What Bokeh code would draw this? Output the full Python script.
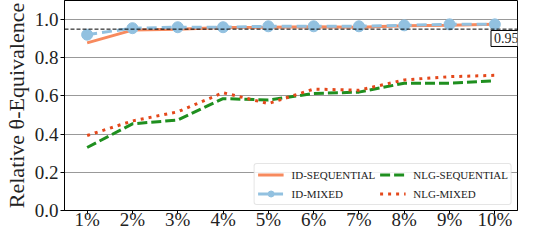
from bokeh.plotting import figure
from bokeh.models import Span, Label, Legend, LegendItem, FixedTicker, Range1d
from bokeh.embed import file_html
from bokeh.resources import INLINE

x = [1, 2, 3, 4, 5, 6, 7, 8, 9, 10]
x_labels = ["1%", "2%", "3%", "4%", "5%", "6%", "7%", "8%", "9%", "10%"]
id_sequential = [0.878, 0.945, 0.950, 0.958, 0.960, 0.963, 0.960, 0.968, 0.970, 0.975]
id_mixed = [0.921, 0.955, 0.960, 0.960, 0.965, 0.965, 0.965, 0.970, 0.975, 0.975]
nlg_sequential = [0.330, 0.454, 0.474, 0.586, 0.579, 0.613, 0.620, 0.667, 0.667, 0.679]
nlg_mixed = [0.393, 0.469, 0.517, 0.617, 0.560, 0.636, 0.630, 0.684, 0.701, 0.708]
threshold = 0.95
y_ticks = [0.0, 0.2, 0.4, 0.6, 0.8, 1.0]

FONT = "Liberation Serif"

p = figure(width=518, height=232, output_backend="svg", toolbar_location=None,
           x_range=Range1d(0.5, 10.5), y_range=Range1d(0, 1.1),
           min_border_left=56, min_border_right=1, min_border_top=0, min_border_bottom=10)
p.outline_line_color = "black"
p.outline_line_width = 1

# grid
p.xgrid.grid_line_color = None
p.ygrid.ticker = FixedTicker(ticks=y_ticks)
p.ygrid.grid_line_color = "#333333"
p.ygrid.grid_line_dash = "1 1"
p.ygrid.grid_line_width = 1

# axes
p.xaxis.ticker = FixedTicker(ticks=x)
p.xaxis.major_label_overrides = {xi: lab for xi, lab in zip(x, x_labels)}
p.yaxis.ticker = FixedTicker(ticks=y_ticks)
p.yaxis.major_label_overrides = {t: f"{t:.1f}" for t in y_ticks}
for ax in (p.xaxis[0], p.yaxis[0]):
    ax.axis_line_color = "black"
    ax.major_tick_line_color = "black"
    ax.major_tick_out = 4
    ax.major_tick_in = 0
    ax.minor_tick_line_color = None
    ax.major_label_text_font = FONT
    ax.major_label_text_font_size = "19px"
    ax.major_label_text_color = "#222222"
p.yaxis.major_label_standoff = 2
p.xaxis.major_label_standoff = -6
p.yaxis.axis_label = "Relative θ-Equivalence"
p.yaxis.axis_label_text_font = FONT
p.yaxis.axis_label_text_font_style = "normal"
p.yaxis.axis_label_text_font_size = "22px"
p.yaxis.axis_label_text_color = "#222222"
p.yaxis.axis_label_standoff = 3

# threshold line
p.add_layout(Span(location=threshold, dimension="width", line_color="black",
                  line_dash="4 2", line_width=1))

r1 = p.line(x, id_sequential, line_color="#f78a5e", line_width=3)
r2 = p.line(x, id_mixed, line_color="#92c1e0", line_width=3, line_dash="10 5")
r2m = p.scatter(x, id_mixed, size=11, fill_color="#92c1e0", line_color="#92c1e0")
r3 = p.line(x, nlg_sequential, line_color="#1f8f1f", line_width=3, line_dash="10 4")
r4 = p.line(x, nlg_mixed, line_color="#e4481b", line_width=3, line_dash="3 5")

lab = Label(x=10.5, y=0.943, text=f"{threshold:.2f}", text_align="right", text_baseline="top",
            x_offset=4, text_font=FONT, text_font_size="14px", text_color="#222222",
            background_fill_color="white", border_line_color="black", border_line_width=1,
            padding=3)
p.add_layout(lab)

legend = Legend(items=[
    LegendItem(label="ID-SEQUENTIAL", renderers=[r1]),
    LegendItem(label="ID-MIXED", renderers=[r2, r2m]),
    LegendItem(label="NLG-SEQUENTIAL", renderers=[r3]),
    LegendItem(label="NLG-MIXED", renderers=[r4]),
], location="bottom_right", ncols=2)
legend.label_text_font = FONT
legend.label_text_font_size = "11px"
legend.label_text_color = "#222222"
legend.glyph_width = 26
legend.glyph_height = 15
legend.label_height = 15
legend.label_standoff = 8
legend.spacing = 4
legend.padding = 3
legend.margin = 5
legend.border_line_color = "#cccccc"
legend.border_radius = 3
legend.background_fill_alpha = 0.85
p.add_layout(legend)

open("out.html", "w").write(file_html(p, INLINE))
